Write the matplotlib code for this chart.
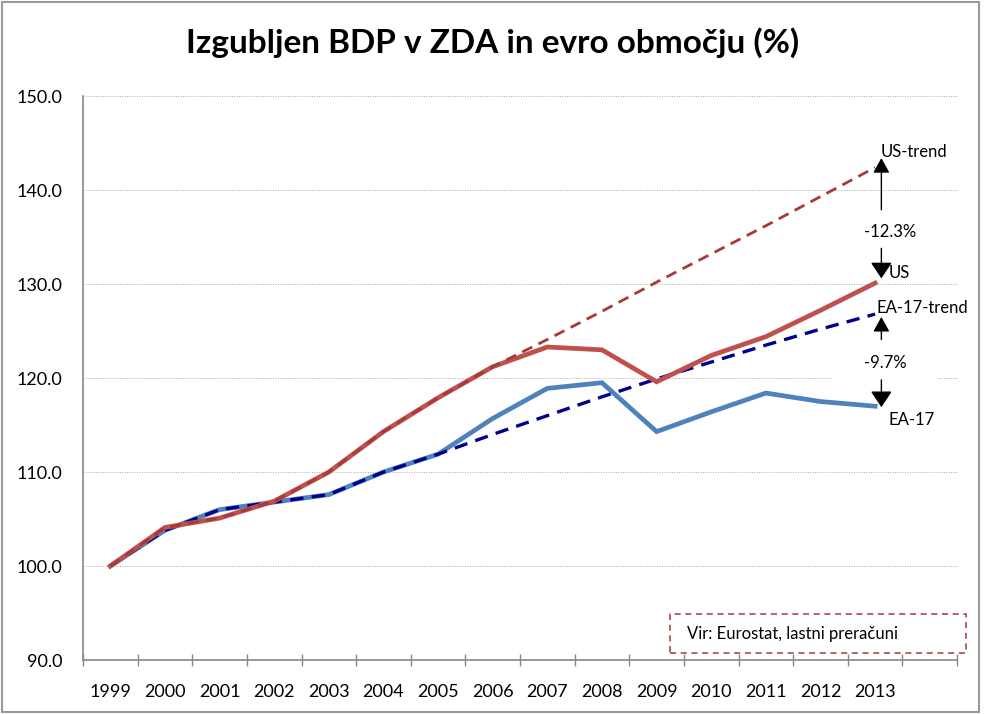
import numpy as np
import matplotlib.pyplot as plt
from matplotlib.patches import Rectangle

# --- data (index, 1999 = 100) ---
years = ['1999', '2000', '2001', '2002', '2003', '2004', '2005', '2006',
         '2007', '2008', '2009', '2010', '2011', '2012', '2013', '']
us = [100.0, 104.1, 105.1, 106.9, 110.0, 114.3, 117.9, 121.2,
      123.3, 123.0, 119.6, 122.4, 124.4, 127.2, 130.1]
ea17 = [100.0, 103.8, 106.0, 106.8, 107.6, 110.0, 111.9, 115.7,
        118.9, 119.5, 114.3, 116.4, 118.4, 117.5, 117.0]
us_trend = [100.0, 104.1, 105.1, 106.9, 110.0, 114.3, 117.9, 121.2,
            124.1, 127.1, 130.2, 133.2, 136.2, 139.3, 142.4]
ea17_trend = [100.0, 103.8, 106.0, 106.8, 107.6, 110.0, 111.9, 114.0,
              116.0, 118.0, 119.9, 121.7, 123.5, 125.2, 126.8]

yticks = [90, 100, 110, 120, 130, 140, 150]

plt.rcParams['font.family'] = ['Lato', 'DejaVu Sans']

fig = plt.figure(figsize=(9.85, 7.14), dpi=100)
ax = fig.add_axes([0.0843, 0.0756, 0.8873, 0.7899])

x = np.arange(len(us))
ax.plot(x, ea17, color='#4F81BD', lw=3.4, solid_joinstyle='miter', zorder=3)
ax.plot(x, ea17_trend, color='#00008F', lw=2.4, dashes=(4, 2.5), zorder=4)
ax.plot(x, us, color='#C0504D', lw=3.4, solid_joinstyle='miter', zorder=5)
ax.plot(x, us_trend, color='#A33B38', lw=2.0, dashes=(4, 2.5), zorder=6)

ax.set_xlim(-0.5, len(years) - 0.5)
ax.set_ylim(90, 150)
ax.set_yticks(yticks)
ax.set_yticklabels([f'{v:.1f}' for v in yticks], fontsize=13)
ax.set_xticks(x.tolist() + [15])
ax.set_xticklabels(years, fontsize=13)
ax.set_xticks(np.arange(-0.5, len(years)), minor=True)
ax.tick_params(axis='x', which='major', length=0, pad=17)
ax.tick_params(axis='x', which='minor', length=9, direction='inout', color='#888888', width=1)
ax.tick_params(axis='y', length=0, pad=15)
ax.grid(axis='y', linestyle=(0, (1, 1.5)), color='#aaaaaa', lw=0.7)
ax.set_axisbelow(True)
for s in ['top', 'right']:
    ax.spines[s].set_visible(False)
for s in ['left', 'bottom']:
    ax.spines[s].set_color('#888888')
    ax.spines[s].set_linewidth(1.2)

# white box behind the -9.7% label
ax.add_patch(Rectangle((13.22, 119.36), 1.92, 3.6, facecolor='white', edgecolor='none', zorder=2))

# arrows and labels on the right
ax_x = 14.115
up_kw = dict(arrowstyle='-|>,head_width=0.25,head_length=0.45', color='black', lw=1,
             mutation_scale=20, shrinkA=0, shrinkB=0)
down_kw = dict(arrowstyle='-|>,head_width=0.3,head_length=0.45', color='black', lw=1,
               mutation_scale=22, shrinkA=0, shrinkB=0)
ax.annotate('', xy=(ax_x, 143.4), xytext=(ax_x, 137.9), arrowprops=up_kw, zorder=8)
ax.annotate('', xy=(ax_x, 130.6), xytext=(ax_x, 133.8), arrowprops=down_kw, zorder=8)
ax.annotate('', xy=(ax_x, 126.5), xytext=(ax_x, 124.1), arrowprops=up_kw, zorder=8)
ax.annotate('', xy=(ax_x, 116.9), xytext=(ax_x, 119.8), arrowprops=down_kw, zorder=8)

tkw = dict(fontsize=12, va='center', zorder=9)
ax.text(14.1, 144.0, 'US-trend', ha='left', **tkw)
ax.text(14.28, 135.5, '-12.3%', ha='center', **tkw)
ax.text(14.25, 131.2, 'US', ha='left', **tkw)
ax.text(14.03, 127.4, 'EA-17-trend', ha='left', **tkw)
ax.text(14.19, 121.6, '-9.7%', ha='center', **tkw)
ax.text(14.25, 115.5, 'EA-17', ha='left', **tkw)

fig.text(0.5, 0.94, 'Izgubljen BDP v ZDA in evro območju (%)', ha='center', va='center',
         fontsize=24, fontweight='bold')

# source box
fig.patches.append(Rectangle((0.680, 0.0854), 0.301, 0.0546, transform=fig.transFigure,
                             facecolor='white', edgecolor='#A33B38', lw=1.1,
                             linestyle=(0, (4, 3)), zorder=10))
fig.text(0.6975, 0.112, 'Vir: Eurostat, lastni preračuni', fontsize=12, va='center', zorder=11)

# outer frame
fig.patches.append(Rectangle((0.002, 0.003), 0.992, 0.994, transform=fig.transFigure,
                             facecolor='none', edgecolor='#999999', lw=1.5))

fig.savefig('out.png', dpi=100)
